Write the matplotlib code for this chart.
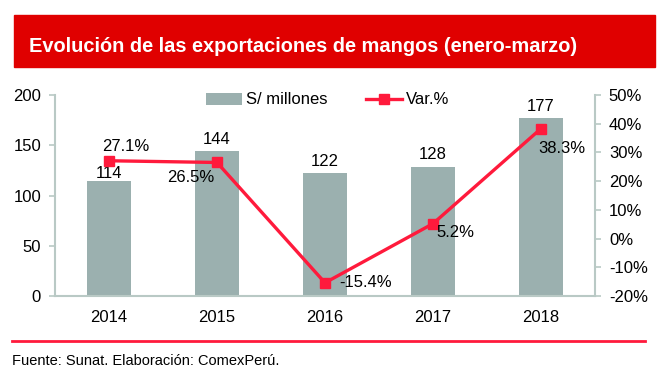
import matplotlib
matplotlib.use("Agg")
import matplotlib.pyplot as plt
from matplotlib.patches import Rectangle, Patch
from matplotlib.lines import Line2D

years = ["2014", "2015", "2016", "2017", "2018"]
millones = [114, 144, 122, 128, 177]
var_pct = [27.1, 26.5, -15.4, 5.2, 38.3]
left_ticks = [0, 50, 100, 150, 200]
right_ticks = [-20, -10, 0, 10, 20, 30, 40, 50]

plt.rcParams["font.family"] = ["Liberation Sans", "DejaVu Sans"]

W, H = 668, 381
fig = plt.figure(figsize=(W / 100, H / 100), dpi=100)

BAR = "#9bb0af"
RED = "#ff1a3c"
SPINE = "#b9c9c5"

ax = fig.add_axes([55 / W, 1 - 296 / H, 540 / W, 201 / H])
x = list(range(len(years)))
ax.bar(x, millones, width=0.41, color=BAR, zorder=2)
ax.set_xlim(-0.5, len(years) - 0.5)
ax.set_ylim(0, 200)
ax.set_yticks(left_ticks)
ax.set_xticks(x)
ax.set_xticklabels(years)
ax.tick_params(axis="x", length=0, pad=10, labelsize=12)
ax.tick_params(axis="y", length=4, color=SPINE, width=1.2, labelsize=12, pad=6)
for s in ["top", "right"]:
    ax.spines[s].set_visible(False)
ax.spines["left"].set_color(SPINE)
ax.spines["bottom"].set_color(SPINE)
ax.spines["left"].set_linewidth(1.5)
ax.spines["bottom"].set_linewidth(1.5)

bar_label_dy = [8, 12, 12, 13, 12]
for xi, v, dy in zip(x, millones, bar_label_dy):
    ax.annotate(f"{v}", (xi, v), xytext=(0, dy), textcoords="offset pixels",
                ha="center", va="center", fontsize=12)

ax2 = ax.twinx()
ax2.plot(x, var_pct, color=RED, lw=2.4, marker="s", markersize=6.5, zorder=3)
ax2.set_ylim(-20, 50)
ax2.set_yticks(right_ticks)
ax2.set_yticklabels([f"{t}%" for t in right_ticks])
ax2.tick_params(axis="y", length=4, color=SPINE, width=1.2, labelsize=12, pad=6)
for s in ["top", "left", "bottom"]:
    ax2.spines[s].set_visible(False)
ax2.spines["right"].set_color(SPINE)
ax2.spines["right"].set_linewidth(1.5)

offsets = [(17, 14), (-26, -15), (41, 0), (22, -9), (21, -20)]
for xi, v, (dx, dy) in zip(x, var_pct, offsets):
    ax2.annotate(f"{v}%", (xi, v), xytext=(dx, dy), textcoords="offset pixels",
                 ha="center", va="center", fontsize=12)

handles = [Patch(facecolor=BAR, edgecolor="none"),
           Line2D([0], [0], color=RED, lw=2.4, marker="s", markersize=6.5)]
fig.legend(handles, ["S/ millones", "Var.%"], ncol=2, frameon=False,
           loc="center", bbox_to_anchor=(328 / W, 1 - 100 / H), fontsize=12,
           handlelength=2.15, handleheight=0.7, columnspacing=2.3, handletextpad=0.25)

# banner
fig.patches.append(Rectangle((14 / W, 1 - 67 / H), 641 / W, 52 / H,
                             transform=fig.transFigure, color="#e00000", zorder=0))
fig.text(29 / W, 1 - 52 / H, "Evolución de las exportaciones de mangos (enero-marzo)",
         color="white", fontsize=14.4, fontweight="bold",
         ha="left", va="baseline")

# footer
fig.add_artist(Line2D([12 / W, 645 / W], [1 - 341 / H, 1 - 341 / H],
                      transform=fig.transFigure, color=RED, lw=2))
fig.text(12 / W, 1 - 365 / H, "Fuente: Sunat. Elaboración: ComexPerú.",
         fontsize=10.5, ha="left", va="baseline")

fig.savefig("out.png", dpi=100)
